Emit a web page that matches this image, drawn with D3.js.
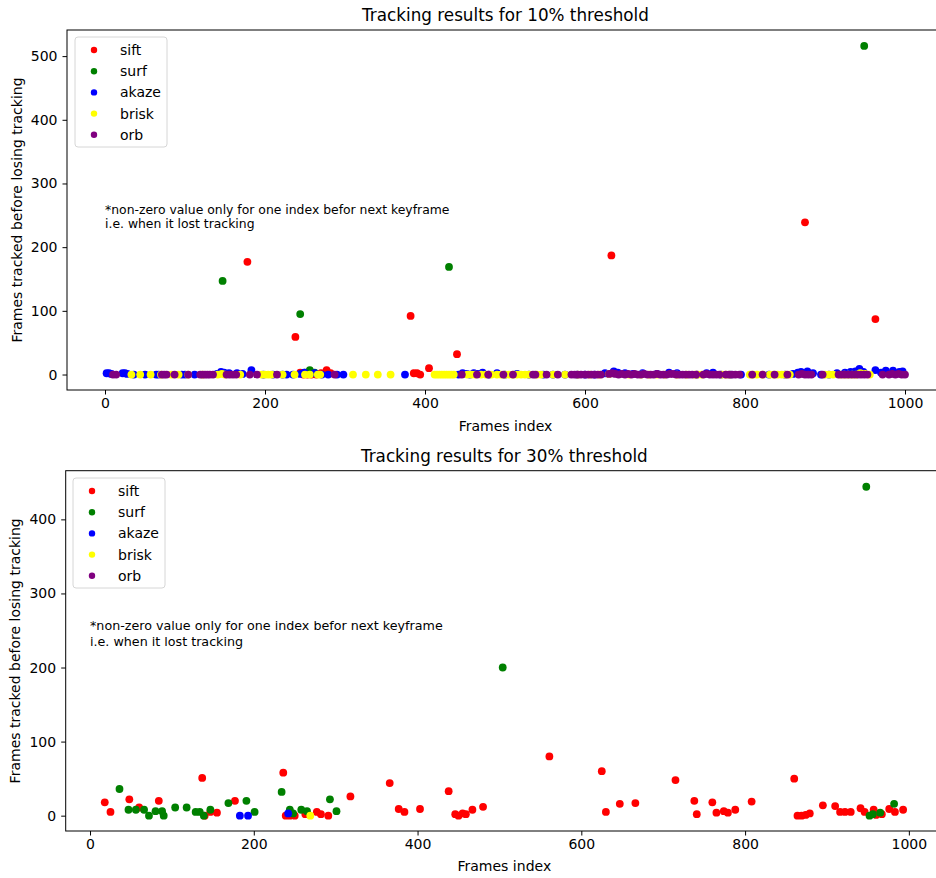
<!DOCTYPE html>
<html>
<head>
<meta charset="utf-8">
<script src="https://d3js.org/d3.v7.min.js"></script>
<style>
  body { margin: 0; background: #fff; }
  text { font-family: "DejaVu Sans", sans-serif; fill: #000; }
</style>
</head>
<body>
<div id="chartContainer"></div>
<script>

// ---- data: [frame index, frames tracked] ----
var sift10 = [[178,177],[238,59],[244,3],[248,0],[253,0],[258,0],[264,0],[270,2],[277,7],[282,2],
  [382,92],[386,2],[390,2],[394,0],[405,10],[440,32],[633,187],[875,239],[963,87]];
var surf10 = [[147,147],[244,95],[250,3],[256,7],[262,3],[430,169],[949,516]];
var akaze10 = [[2,2],[5,2],[8,1],[22,2],[25,2],[28,1],[36,0],[50,0],[64,0],[67,0],[96,0],[100,0],
  [112,0],[140,1],[145,4],[149,3],[155,2],[165,2],[172,1],[183,7],[198,0],[210,0],[222,0],[227,0],
  [235,0],[244,1],[249,3],[262,2],[271,0],[279,0],[290,0],[298,0],[375,0],[442,0],[447,2],[452,1],
  [456,0],[461,2],[466,1],[472,3],[480,0],[490,2],[500,0],[515,1],[530,0],[548,0],[560,0],[575,0],
  [590,0],[600,0],[612,0],[625,2],[636,5],[641,3],[650,2],[660,1],[672,2],[690,1],[705,3],[715,2],
  [740,0],[752,2],[760,3],[770,0],[782,0],[795,0],[830,0],[850,0],[860,1],[866,3],[870,4],[878,5],
  [885,2],[895,0],[905,0],[915,2],[925,3],[932,4],[938,5],[943,9],[948,4],[963,7],[970,3],[976,6],
  [985,6],[993,4],[997,5]];
var brisk10 = [[33,0],[44,0],[57,0],[70,0],[83,0],[92,0],[104,0],[122,0],[141,0],[146,1],[150,0],
  [169,0],[196,0],[200,0],[204,0],[208,0],[222,0],[237,0],[250,0],[256,0],[266,0],[269,0],[310,0],
  [326,0],[341,0],[357,0],[412,0],[415,0],[418,0],[421,0],[424,0],[427,0],[430,0],[433,0],[436,0],
  [453,0],[458,0],[463,0],[470,0],[476,0],[483,0],[490,0],[495,0],[500,0],[505,0],[510,0],[515,0],
  [520,0],[525,0],[530,0],[540,0],[545,0],[560,0],[575,0],[591,0],[606,0],[618,0],[630,1],[655,0],
  [670,0],[680,0],[690,0],[700,0],[715,0],[727,0],[737,0],[741,0],[746,0],[771,0],[776,0],[781,0],
  [806,0],[810,0],[815,0],[822,0],[831,0],[836,0],[841,0],[846,0],[851,0],[856,0],[900,0],[905,0],
  [910,0],[919,0],[924,0],[929,0],[934,0],[939,0],[944,2],[950,1],[956,0]];
var orb10 = [[10,0],[14,0],[71,0],[74,0],[77,0],[87,0],[104,0],[119,0],[122,0],[125,0],[128,0],
  [131,0],[135,0],[152,0],[156,0],[160,0],[164,0],[181,0],[190,0],[215,0],[287,0],[446,0],[465,0],
  [479,0],[498,0],[510,0],[535,0],[538,0],[552,0],[566,0],[583,0],[587,0],[591,0],[595,0],[600,0],
  [604,0],[608,0],[612,0],[616,0],[620,0],[630,1],[634,2],[638,1],[642,0],[646,1],[650,0],[654,1],
  [658,0],[662,1],[666,0],[670,0],[674,1],[678,0],[682,0],[686,0],[690,1],[694,0],[698,0],[702,0],
  [706,1],[710,1],[714,0],[718,0],[722,0],[726,0],[730,0],[734,0],[739,0],[748,0],[752,1],[756,0],
  [760,0],[764,0],[768,0],[776,0],[780,0],[784,0],[788,0],[793,0],[809,0],[822,0],[837,0],[853,0],
  [867,0],[871,1],[875,0],[879,0],[883,0],[897,0],[917,0],[921,0],[925,0],[929,0],[933,0],[937,0],
  [941,0],[945,0],[949,0],[953,0],[972,0],[980,0],[984,1],[988,0],[992,1],[996,0],[1000,0]];

var sift30 = [[18,18],[25,5],[48,22],[60,11],[84,20],[137,51],[140,0],[147,5],[155,4],[177,20],
  [236,58],[239,0],[244,0],[250,0],[263,2],[277,5],[282,2],[291,0],[318,26],[366,44],[377,9],
  [384,5],[403,9],[438,33],[446,2],[450,0],[455,3],[459,2],[467,8],[480,12],[561,80],[625,60],
  [630,5],[647,16],[666,17],[715,48],[738,20],[741,2],[760,18],[765,4],[774,6],[779,4],[788,8],
  [808,19],[860,50],[864,0],[869,0],[874,1],[879,3],[895,14],[910,13],[916,5],[922,5],[929,5],
  [941,10],[946,5],[957,8],[960,1],[967,2],[976,9],[983,5],[993,8]];
var surf30 = [[36,36],[47,8],[56,8],[66,8],[72,0],[80,6],[88,6],[90,0],[104,11],[118,11],[129,5],
  [134,5],[139,0],[147,8],[169,17],[191,20],[201,5],[234,32],[244,8],[248,3],[258,8],[265,6],
  [293,22],[301,6],[504,200],[948,444],[952,0],[956,2],[965,4],[982,16]];
var akaze30 = [[183,0],[193,0],[242,3]];
var brisk30 = [[269,0]];
var orb30 = [];

var seriesNames = ["sift", "surf", "akaze", "brisk", "orb"];
var seriesColors = ["red", "green", "blue", "yellow", "purple"];
var xTicks = [0, 200, 400, 600, 800, 1000];
var yTicks10 = [0, 100, 200, 300, 400, 500];
var yTicks30 = [0, 100, 200, 300, 400];
var noteLines = ["*non-zero value only for one index befor next keyframe", "i.e. when it lost tracking"];

var svg = d3.select("#chartContainer").append("svg")
  .attr("width", 936).attr("height", 878)
  .style("background", "#fff");

function drawPanel(p) {
  var g = svg.append("g");
  var x = d3.scaleLinear().domain(p.xDomain).range([p.left, p.right]);
  var y = d3.scaleLinear().domain(p.yDomain).range([p.bottom, p.top]);

  // points, first series at the back
  p.series.forEach(function (s, i) {
    g.append("g").selectAll("circle")
      .data(s).enter().append("circle")
      .attr("cx", function (d) { return x(d[0]); })
      .attr("cy", function (d) { return y(d[1]); })
      .attr("r", 3.9)
      .style("fill", seriesColors[i]);
  });

  // axes
  var xAxis = g.append("g").attr("transform", "translate(0," + p.bottom + ")")
    .call(d3.axisBottom(x).tickValues(xTicks).tickSize(4.5).tickPadding(4).tickFormat(d3.format("d")));
  var yAxis = g.append("g").attr("transform", "translate(" + p.left + ",0)")
    .call(d3.axisLeft(y).tickValues(p.yTicks).tickSize(4.5).tickPadding(5).tickFormat(d3.format("d")));
  [xAxis, yAxis].forEach(function (a) {
    a.select(".domain").remove();
    a.selectAll("line").style("stroke", "#000").style("stroke-width", 1);
    a.selectAll("text").style("font-size", "14px").style("font-family", "DejaVu Sans, sans-serif").style("fill", "#000");
  });

  // spines
  g.append("rect")
    .attr("x", p.left).attr("y", p.top)
    .attr("width", p.right - p.left).attr("height", p.bottom - p.top)
    .style("fill", "none").style("stroke", "#000").style("stroke-width", 1);

  g.append("text").attr("x", (p.left + p.right) / 2).attr("y", p.titleY)
    .attr("text-anchor", "middle").style("font-size", "16.8px").text(p.title);
  g.append("text").attr("x", (p.left + p.right) / 2).attr("y", p.xLabelY)
    .attr("text-anchor", "middle").style("font-size", "14px").text("Frames index");
  g.append("text")
    .attr("transform", "translate(" + p.yLabelX + "," + (p.top + p.bottom) / 2 + ") rotate(-90)")
    .attr("text-anchor", "middle").style("font-size", "14px")
    .text("Frames tracked before losing tracking");

  // annotation: one multi-line text block, like matplotlib's
  var note = g.append("text").attr("x", p.noteX).attr("y", p.noteY).style("font-size", p.noteSize);
  note.selectAll("tspan").data(noteLines).enter().append("tspan")
    .attr("x", p.noteX)
    .attr("dy", function (d, i) { return i === 0 ? 0 : p.noteGap; })
    .text(function (d) { return d; });

  // legend
  var lg = g.append("g").attr("transform", "translate(" + p.legX + "," + p.legY + ")");
  lg.append("rect").attr("width", 92).attr("height", 110).attr("rx", 3)
    .style("fill", "#fff").style("fill-opacity", 0.8)
    .style("stroke", "#d6d6d6").style("stroke-width", 1);
  seriesNames.forEach(function (n, i) {
    lg.append("circle").attr("cx", 19).attr("cy", 13 + i * 21.2).attr("r", 3.2)
      .style("fill", seriesColors[i]);
    lg.append("text").attr("x", 45).attr("y", 13 + i * 21.2).attr("dy", "0.35em")
      .style("font-size", "14px").text(n);
  });
}

drawPanel({
  title: "Tracking results for 10% threshold",
  series: [sift10, surf10, akaze10, brisk10, orb10],
  left: 67, right: 944, top: 30, bottom: 390,
  xDomain: [-47.5, 1048.75], yDomain: [-24.3, 541], yTicks: yTicks10,
  titleY: 21, xLabelY: 431, yLabelX: 22,
  noteX: 105, noteY: 213.5, noteGap: 14.5, noteSize: "12.4px",
  legX: 75, legY: 37
});

drawPanel({
  title: "Tracking results for 30% threshold",
  series: [sift30, surf30, akaze30, brisk30, orb30],
  left: 65.7, right: 943, top: 470.7, bottom: 831,
  xDomain: [-29.7, 1041.7], yDomain: [-20.7, 465.7], yTicks: yTicks30,
  titleY: 462, xLabelY: 871, yLabelX: 20,
  noteX: 90, noteY: 630, noteGap: 15.7, noteSize: "12.7px",
  legX: 73, legY: 478
});
</script>
</body>
</html>
